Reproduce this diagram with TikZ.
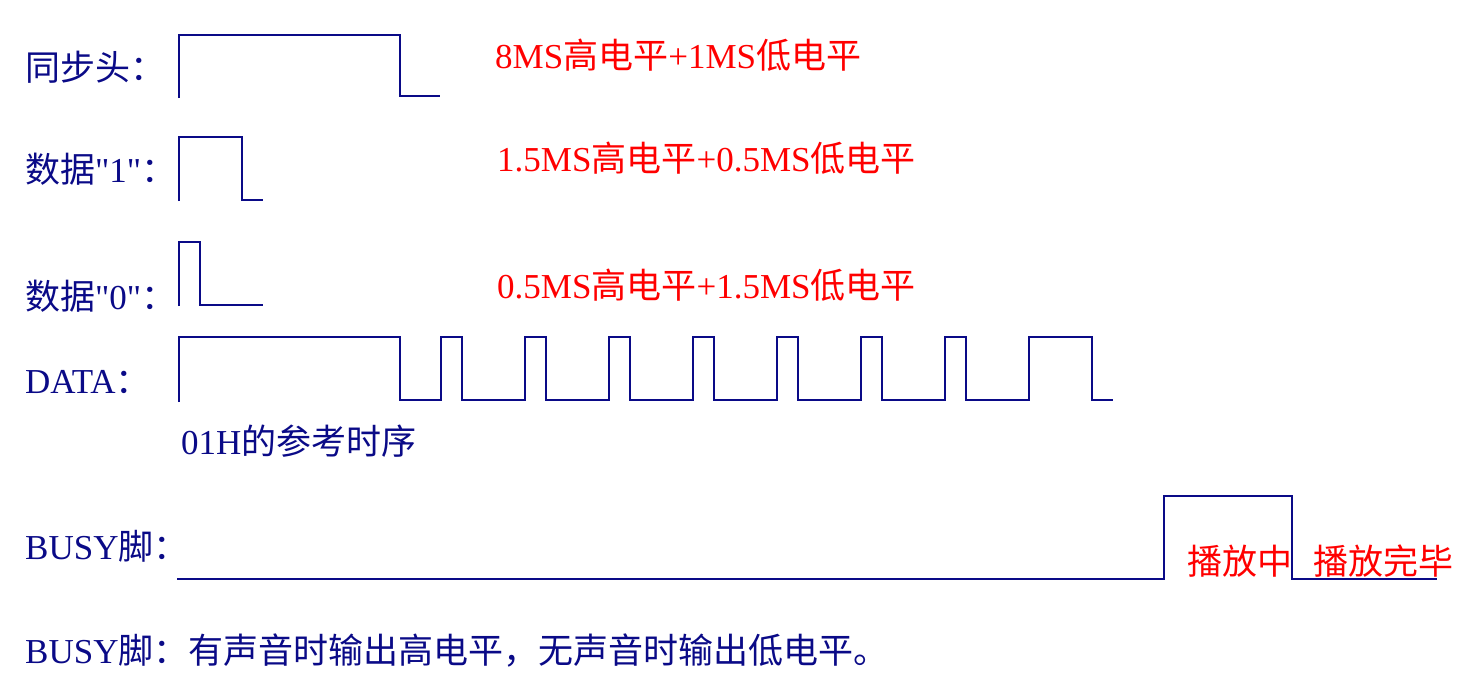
\documentclass[tikz,border=0pt]{standalone}
\usepackage{fontspec}
\setmainfont{Liberation Serif}
\newfontfamily\rom{Liberation Serif}
\newfontfamily\cjk{Noto Sans CJK SC}
\definecolor{navy}{RGB}{10,10,135}
\definecolor{sigred}{RGB}{255,0,0}
\begin{document}
\begin{tikzpicture}[x=1pt,y=-1pt,
  wave/.style={draw=navy,line width=2.6pt,line join=miter},
  lbl/.style={anchor=base west,inner sep=0pt,text=navy,font=\fontsize{35}{40}\selectfont},
  note/.style={anchor=base west,inner sep=0pt,text=sigred,font=\fontsize{35}{40}\selectfont}]
\useasboundingbox (0,0) rectangle (1466,691);
% labels
\node[lbl] (l1) at (25,80) {{\cjk 同步头：}};
\node[lbl] (l2) at (25,182) {{\cjk 数据}{\rom"1"}{\cjk ：}};
\node[lbl] (l3) at (25,309) {{\cjk 数据}{\rom"0"}{\cjk ：}};
\node[lbl] (l4) at (25,393) {DATA{\cjk ：}};
\node[lbl] (l5) at (181,454) {01H{\cjk 的参考时序}};
\node[lbl] (l6) at (25,559) {BUSY{\cjk 脚：}};
\node[lbl] (l7) at (25,663) {BUSY{\cjk 脚：有声音时输出高电平，无声音时输出低电平。}};
% red notes
\node[note] (n1) at (495,68) {8MS{\cjk 高电平}+1MS{\cjk 低电平}};
\node[note] (n2) at (497,171) {1.5MS{\cjk 高电平}+0.5MS{\cjk 低电平}};
\node[note] (n3) at (497,298) {0.5MS{\cjk 高电平}+1.5MS{\cjk 低电平}};
\node[note] (n4) at (1187,574) {{\cjk 播放中}};
\node[note] (n5) at (1313,574) {{\cjk 播放完毕}};
% waveforms
\draw[wave] (179,98) |- (400,35) |- (440,96);
\draw[wave] (179,201) |- (242,137) |- (263,200);
\draw[wave] (179,306) |- (200,242) |- (263,305);
\draw[wave] (179,402) |- (400,337) |- (441,400)
  |- (462,337) |- (525,400)
  |- (546,337) |- (609,400)
  |- (630,337) |- (693,400)
  |- (714,337) |- (777,400)
  |- (798,337) |- (861,400)
  |- (882,337) |- (945,400)
  |- (966,337) |- (1029,400)
  |- (1092,337) |- (1113,400);
\draw[wave] (177,579) -| (1164,496) -| (1292,579) -- (1437,579);
\end{tikzpicture}
\end{document}
